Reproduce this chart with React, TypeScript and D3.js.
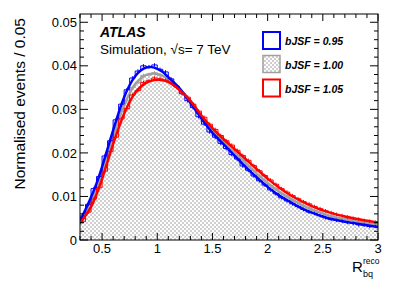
import React from 'react';
import * as d3 from 'd3';

// Histogram bins: 0.3 .. 3.0, width 0.05
const binStart = 0.3;
const binWidth = 0.05;

const histBlue = [
  0.0055, 0.0082, 0.0118, 0.0146, 0.0193, 0.0228, 0.0276, 0.0312, 0.0345, 0.0372,
  0.0388, 0.0400, 0.0398, 0.0402, 0.0392, 0.0386, 0.0370, 0.0352, 0.0336, 0.0320,
  0.0304, 0.0283, 0.0266, 0.0248, 0.0236, 0.0222, 0.0210, 0.0196, 0.0186, 0.0170,
  0.0160, 0.0147, 0.0136, 0.0126, 0.0115, 0.0106, 0.0097, 0.0090, 0.0083, 0.0077,
  0.0070, 0.0064, 0.0061, 0.0056, 0.0051, 0.0047, 0.0045, 0.0043, 0.0040, 0.0038,
  0.0035, 0.0034, 0.0031, 0.0031,
];

const histGray = [
  0.0050, 0.0077, 0.0100, 0.0137, 0.0172, 0.0218, 0.0253, 0.0295, 0.0321, 0.0350,
  0.0362, 0.0378, 0.0380, 0.0384, 0.0378, 0.0375, 0.0362, 0.0354, 0.0338, 0.0325,
  0.0306, 0.0291, 0.0273, 0.0260, 0.0244, 0.0233, 0.0219, 0.0208, 0.0194, 0.0184,
  0.0170, 0.0160, 0.0147, 0.0138, 0.0125, 0.0118, 0.0107, 0.0101, 0.0091, 0.0086,
  0.0078, 0.0074, 0.0067, 0.0064, 0.0058, 0.0056, 0.0051, 0.0050, 0.0046, 0.0045,
  0.0041, 0.0040, 0.0037, 0.0036,
];

const histRed = [
  0.0042, 0.0064, 0.0094, 0.0120, 0.0158, 0.0203, 0.0236, 0.0278, 0.0302, 0.0333,
  0.0343, 0.0362, 0.0366, 0.0372, 0.0370, 0.0367, 0.0361, 0.0352, 0.0337, 0.0328,
  0.0312, 0.0296, 0.0282, 0.0266, 0.0254, 0.0240, 0.0228, 0.0218, 0.0206, 0.0194,
  0.0183, 0.0171, 0.0159, 0.0148, 0.0138, 0.0128, 0.0118, 0.0110, 0.0102, 0.0095,
  0.0088, 0.0083, 0.0077, 0.0072, 0.0067, 0.0063, 0.0059, 0.0056, 0.0053, 0.0050,
  0.0048, 0.0045, 0.0043, 0.0041,
];

// Fitted curves
const fitX = [
  0.3, 0.35, 0.4, 0.45, 0.5, 0.55, 0.6, 0.65, 0.7, 0.75, 0.8, 0.85, 0.9, 0.95, 1.0, 1.05,
  1.1, 1.2, 1.3, 1.4, 1.5, 1.6, 1.7, 1.8, 1.9, 2.0, 2.1, 2.2, 2.3, 2.4, 2.5, 2.6, 2.7, 2.8,
  2.9, 3.0,
];
const fitBlue = [
  0.0045, 0.0070, 0.0098, 0.0130, 0.0168, 0.0210, 0.0252, 0.0292, 0.0328, 0.0356, 0.0376,
  0.0389, 0.0396, 0.0397, 0.0393, 0.0386, 0.0374, 0.0349, 0.0315, 0.0279, 0.0246, 0.0220,
  0.0194, 0.0168, 0.0144, 0.0122, 0.0103, 0.0088, 0.0074, 0.0063, 0.0054, 0.0047, 0.0042,
  0.0038, 0.0034, 0.0030,
];
const fitGray = [
  0.0042, 0.0063, 0.0087, 0.0117, 0.0154, 0.0195, 0.0236, 0.0275, 0.0310, 0.0337, 0.0358,
  0.0371, 0.0379, 0.0382, 0.0381, 0.0377, 0.0369, 0.0348, 0.0318, 0.0282, 0.0251, 0.0226,
  0.0201, 0.0177, 0.0153, 0.0131, 0.0112, 0.0096, 0.0082, 0.0070, 0.0061, 0.0053, 0.0048,
  0.0043, 0.0039, 0.0035,
];
const fitRed = [
  0.0038, 0.0056, 0.0076, 0.0105, 0.0140, 0.0180, 0.0220, 0.0257, 0.0290, 0.0317, 0.0338,
  0.0352, 0.0361, 0.0366, 0.0368, 0.0367, 0.0363, 0.0345, 0.0320, 0.0286, 0.0257, 0.0232,
  0.0209, 0.0186, 0.0163, 0.0141, 0.0121, 0.0104, 0.0090, 0.0078, 0.0068, 0.0060, 0.0054,
  0.0049, 0.0044, 0.0040,
];

const errHalf = 0.0004;

const yTicks = [0, 0.01, 0.02, 0.03, 0.04, 0.05];
const yTickLabels = ['0', '0.01', '0.02', '0.03', '0.04', '0.05'];
const xTicks = [0.5, 1, 1.5, 2, 2.5, 3];
const xTickLabels = ['0.5', '1', '1.5', '2', '2.5', '3'];

const legendLabels = ['bJSF = 0.95', 'bJSF = 1.00', 'bJSF = 1.05'];

const BLUE = '#0000ff';
const RED = '#ff0000';
const GRAY = '#a0a0a0';

const W = 399;
const H = 286;
const L = 80, R = 378, T = 14, B = 240;
const FONT = '"Liberation Sans", Arial, Helvetica, sans-serif';

export default function App() {
  const x = d3.scaleLinear().domain([0.3, 3]).range([L, R]);
  const y = d3.scaleLinear().domain([0, 0.0519]).range([B, T]);

  const stepPath = (vals: number[]) => {
    const pts: [number, number][] = vals.map((v, i) => [binStart + i * binWidth, v]);
    pts.push([binStart + vals.length * binWidth, vals[vals.length - 1]]);
    return d3
      .line<[number, number]>()
      .x((d) => x(d[0]))
      .y((d) => y(d[1]))
      .curve(d3.curveStepAfter)(pts) as string;
  };
  const stepArea = (vals: number[]) => {
    const pts: [number, number][] = vals.map((v, i) => [binStart + i * binWidth, v]);
    pts.push([binStart + vals.length * binWidth, vals[vals.length - 1]]);
    return d3
      .area<[number, number]>()
      .x((d) => x(d[0]))
      .y0(y(0))
      .y1((d) => y(d[1]))
      .curve(d3.curveStepAfter)(pts) as string;
  };
  const fitPath = (vals: number[]) =>
    d3
      .line<number>()
      .x((_, i) => x(fitX[i]))
      .y((d) => y(d))
      .curve(d3.curveCatmullRom)(vals) as string;

  const errBars = (vals: number[], color: string) =>
    vals.map((v, i) => {
      const cx = x(binStart + (i + 0.5) * binWidth);
      return (
        <line
          key={i}
          x1={cx}
          x2={cx}
          y1={y(v - errHalf)}
          y2={y(v + errHalf)}
          stroke={color}
          strokeWidth={1}
        />
      );
    });

  const yMinor = d3.range(0, 0.0519, 0.002);
  const xMinor = d3.range(0.3, 3.0001, 0.1);

  const legendColors = [BLUE, GRAY, RED];
  const legendY = [32, 55.5, 79.5];

  return (
    <svg width={W} height={H} style={{ display: 'block', position: 'absolute', left: 0, top: 0 }}>
      <defs>
        <pattern id="chk" width={4} height={4} patternUnits="userSpaceOnUse">
          <rect width={4} height={4} fill="#ffffff" />
          <rect x={0} y={0} width={2} height={2} fill="#cfcfcf" />
          <rect x={2} y={2} width={2} height={2} fill="#cfcfcf" />
        </pattern>
        <clipPath id="plot">
          <rect x={L} y={T} width={R - L} height={B - T} />
        </clipPath>
      </defs>
      <rect width={W} height={H} fill="#fff" />

      <g clipPath="url(#plot)">
        <path d={stepArea(histGray)} fill="url(#chk)" stroke="none" />
        <path d={stepPath(histGray)} fill="none" stroke={GRAY} strokeWidth={1} />
        {errBars(histGray, GRAY)}
        <path d={fitPath(fitGray)} fill="none" stroke={GRAY} strokeWidth={2.5} />

        <path d={stepPath(histBlue)} fill="none" stroke={BLUE} strokeWidth={1} />
        {errBars(histBlue, BLUE)}
        <path d={stepPath(histRed)} fill="none" stroke={RED} strokeWidth={1} />
        {errBars(histRed, RED)}
        <path d={fitPath(fitBlue)} fill="none" stroke={BLUE} strokeWidth={2.5} />
        <path d={fitPath(fitRed)} fill="none" stroke={RED} strokeWidth={2.5} />
      </g>

      {/* frame */}
      <rect x={L} y={T} width={R - L} height={B - T} fill="none" stroke="#000" strokeWidth={1} />

      {/* y ticks */}
      {yMinor.map((t, i) => {
        const major = Math.abs(t / 0.01 - Math.round(t / 0.01)) < 1e-6;
        const len = major ? 8 : 4;
        return (
          <g key={'ym' + i}>
            <line x1={L} x2={L + len} y1={y(t)} y2={y(t)} stroke="#000" />
            <line x1={R} x2={R - len} y1={y(t)} y2={y(t)} stroke="#000" />
          </g>
        );
      })}
      {yTicks.map((t, i) => (
        <text
          key={'yl' + i}
          x={L - 3}
          y={y(t)}
          dy="0.36em"
          textAnchor="end"
          fontFamily={FONT}
          fontSize={13}
        >
          {yTickLabels[i]}
        </text>
      ))}

      {/* x ticks */}
      {xMinor.map((t, i) => {
        const major = Math.abs(t / 0.5 - Math.round(t / 0.5)) < 1e-6;
        const len = major ? 7 : 4;
        return (
          <g key={'xm' + i}>
            <line x1={x(t)} x2={x(t)} y1={B} y2={B - len} stroke="#000" />
            <line x1={x(t)} x2={x(t)} y1={T} y2={T + len} stroke="#000" />
          </g>
        );
      })}
      {xTicks.map((t, i) => (
        <text
          key={'xl' + i}
          x={x(t)}
          y={253}
          textAnchor="middle"
          fontFamily={FONT}
          fontSize={13}
        >
          {xTickLabels[i]}
        </text>
      ))}

      {/* axis titles */}
      <text
        transform="translate(25,18) rotate(-90)"
        textAnchor="end"
        fontFamily={FONT}
        fontSize={15.5}
      >
        Normalised events / 0.05
      </text>
      <text x={352} y={272} fontFamily={FONT} fontSize={15}>
        R
      </text>
      <text x={363} y={264} fontFamily={FONT} fontSize={8.5}>
        reco
      </text>
      <text x={363} y={277} fontFamily={FONT} fontSize={9}>
        bq
      </text>

      {/* labels */}
      <text x={100} y={37} fontFamily={FONT} fontSize={14} fontWeight="bold" fontStyle="italic">
        ATLAS
      </text>
      <text x={100} y={54} fontFamily={FONT} fontSize={13.5}>
        Simulation, √s= 7 TeV
      </text>

      {/* legend */}
      {legendLabels.map((lab, i) => (
        <g key={'lg' + i}>
          <rect
            x={263}
            y={legendY[i]}
            width={17}
            height={17}
            fill={i === 1 ? 'url(#chk)' : '#fff'}
            stroke={legendColors[i]}
            strokeWidth={i === 1 ? 1.5 : 2}
          />
          <text
            x={285}
            y={legendY[i] + 13}
            fontFamily={FONT}
            fontSize={10.5}
            fontWeight="bold"
            fontStyle="italic"
          >
            {lab}
          </text>
        </g>
      ))}
    </svg>
  );
}
